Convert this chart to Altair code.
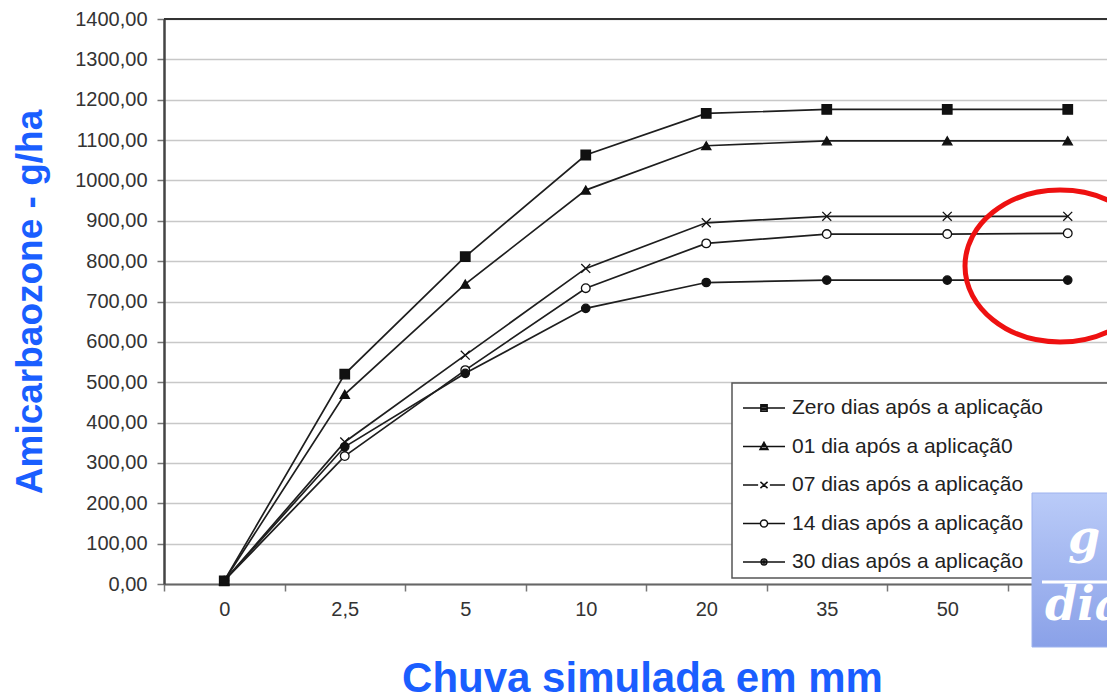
import altair as alt
import pandas as pd

# ---------------- data ----------------
chuva = ["0", "2,5", "5", "10", "20", "35", "50", "65"]
series = [
    "Zero dias após a aplicação",
    "01 dia após a aplicaçã0",
    "07 dias após a aplicação",
    "14 dias após a aplicação",
    "30 dias após a aplicação",
]
zero_dias = [8, 520, 811, 1063, 1166, 1176, 1176, 1176]
um_dia = [8, 470, 743, 976, 1086, 1098, 1098, 1098]
sete_dias = [8, 352, 567, 782, 895, 911, 911, 911]
catorze_dias = [8, 317, 530, 733, 844, 867, 867, 869]
trinta_dias = [8, 340, 522, 683, 747, 753, 753, 753]
y_ticks = list(range(0, 1401, 100))

all_values = [zero_dias, um_dia, sete_dias, catorze_dias, trinta_dias]
rows = []
for s, vals in zip(series, all_values):
    for c, v in zip(chuva, vals):
        rows.append({"chuva": c, "serie": s, "valor": v})
df = pd.DataFrame(rows)
df_series = pd.DataFrame({"serie": series})
one = pd.DataFrame({"k": [0]})

# ---------------- styles ----------------
W, H = 943, 565
BLUE = "#1a5eff"
FONT = "Liberation Sans"

marker_shapes = ["square", "triangle-up", "M-1,-1L1,1M-1,1L1,-1", "circle", "circle"]
marker_fills = ["#111111", "#111111", "#111111", "#ffffff", "#111111"]
marker_sizes = [90, 70, 60, 60, 40]

# stroke-only legend glyphs: line + marker (filled markers emulated by hatching)
legend_paths = [
    "M-1,0H1M-0.15,-0.15H0.15V0.15H-0.15ZM-0.15,-0.08H0.15M-0.15,0.07H0.15",
    "M-1,0H1M0,-0.2L0.19,0.14H-0.19ZM-0.056,-0.1H0.056M-0.095,-0.03H0.095M-0.168,0.1H0.168",
    "M-1,0H-0.28M0.28,0H1M-0.17,-0.15L0.17,0.15M-0.17,0.15L0.17,-0.15",
    "M-1,0H-0.17M0.17,0H1M-0.17,0A0.17,0.17,0,1,1,0.17,0A0.17,0.17,0,1,1,-0.17,0Z",
    "M-1,0H1M-0.14,0A0.14,0.14,0,1,1,0.14,0A0.14,0.14,0,1,1,-0.14,0ZM-0.06,0A0.06,0.06,0,1,1,0.06,0A0.06,0.06,0,1,1,-0.06,0Z",
]

x_enc = alt.X(
    "chuva:N",
    sort=chuva,
    scale=alt.Scale(type="band", domain=chuva, range=[0, 964], paddingInner=0, paddingOuter=0),
    axis=alt.Axis(
        title="Chuva simulada em mm",
        titleFont=FONT, titleFontSize=42, titleFontWeight="bold", titleColor=BLUE,
        titleX=478, titleY=94, titleAlign="center", titleBaseline="middle", titleAngle=0,
        labelFont=FONT, labelFontSize=20, labelColor="#333333", labelAngle=0,
        labelPadding=8, tickBand="extent", tickSize=7, tickColor="#777777", tickWidth=1.5,
        domainColor="#666666", domainWidth=2, grid=False,
    ),
)
y_enc = alt.Y(
    "valor:Q",
    scale=alt.Scale(domain=[0, 1400], nice=False, zero=True),
    axis=alt.Axis(
        values=y_ticks,
        labelExpr="replace(format(datum.value, '.2f'), '.', ',')",
        title="Amicarbaozone - g/ha",
        titleFont=FONT, titleFontSize=37, titleFontWeight="bold", titleColor=BLUE,
        titleAngle=270, titleX=-134, titleY=282.5, titleAlign="center", titleBaseline="middle",
        labelFont=FONT, labelFontSize=20, labelColor="#333333", labelPadding=10,
        tickSize=7, tickColor="#777777", tickWidth=1.5,
        domainColor="#444444", domainWidth=2.5,
        grid=True, gridColor="#c8c8c8", gridWidth=1.6,
    ),
)

# legend frame (white backing, drawn under the overlay box)
frame = alt.Chart(one).mark_rect(fill="white", stroke="#555555", strokeWidth=1.5).encode(
    x=alt.value(568), x2=alt.value(944), y=alt.value(364), y2=alt.value(559)
)

lines = alt.Chart(df).mark_line(interpolate="linear", color="#1e1e1e", strokeWidth=1.7).encode(
    x=x_enc, y=y_enc, detail="serie:N"
)

points = alt.Chart(df).mark_point(opacity=1, stroke="#111111", strokeWidth=1.3).encode(
    x=x_enc,
    y=y_enc,
    shape=alt.Shape("serie:N", scale=alt.Scale(domain=series, range=marker_shapes), legend=None),
    fill=alt.Fill("serie:N", scale=alt.Scale(domain=series, range=marker_fills), legend=None),
    size=alt.Size("serie:N", scale=alt.Scale(domain=series, range=marker_sizes), legend=None),
)

legend_layer = alt.Chart(df_series).mark_point(
    filled=False, color="#111111", strokeWidth=1.5, opacity=1, size=1764
).encode(
    x=alt.value(-700),
    y=alt.value(-700),
    shape=alt.Shape(
        "serie:N",
        scale=alt.Scale(domain=series, range=legend_paths),
        legend=alt.Legend(
            title=None, orient="none", legendX=578, legendY=367,
            symbolSize=1764, symbolStrokeWidth=1.5, symbolStrokeColor="#111111",
            symbolOpacity=1,
            labelFont=FONT, labelFontSize=21, labelColor="#222222", labelOffset=6,
            labelLimit=400, rowPadding=6.5, padding=0,
        ),
    ),
)

top_border = alt.Chart(one).mark_rule(color="#333333", strokeWidth=2).encode(
    x=alt.value(0), x2=alt.value(W), y=alt.value(0)
)

# overlay annotations from the reference slide
box = alt.Chart(one).mark_rect(
    fill={
        "gradient": "linear",
        "x1": 0, "x2": 0, "y1": 0, "y2": 1,
        "stops": [{"offset": 0, "color": "#bacbf8"}, {"offset": 1, "color": "#8aa1e8"}],
    },
    stroke="#9db2ee",
    strokeWidth=1,
).encode(x=alt.value(868), x2=alt.value(960), y=alt.value(474), y2=alt.value(628))

frac_line = alt.Chart(one).mark_rule(color="white", strokeWidth=3).encode(
    x=alt.value(878), x2=alt.value(951), y=alt.value(563)
)
g_text = alt.Chart(one).mark_text(
    text="g", font="DejaVu Serif", fontStyle="italic", fontWeight="bold", fontSize=46,
    color="white", align="center", baseline="alphabetic",
).encode(x=alt.value(920), y=alt.value(534))
dia_text = alt.Chart(one).mark_text(
    text="dia", font="DejaVu Serif", fontStyle="italic", fontWeight="bold", fontSize=46,
    color="white", align="left", baseline="alphabetic",
).encode(x=alt.value(881), y=alt.value(601))

ellipse = alt.Chart(one).mark_point(
    shape="M-1,0A1,0.8,0,1,1,1,0A1,0.8,0,1,1,-1,0Z",
    size=36100, filled=False, stroke="#ee1111", strokeWidth=5, opacity=1,
).encode(x=alt.value(896), y=alt.value(247))

chart = (
    alt.layer(frame, lines, points, legend_layer, top_border, box, frac_line, g_text, dia_text, ellipse)
    .resolve_scale(shape="independent", fill="independent", size="independent")
    .properties(
        width=W,
        height=H,
        padding={"left": 156, "top": 11, "right": 0, "bottom": 116},
        autosize=alt.AutoSizeParams(type="none"),
        background="white",
    )
    .configure_view(stroke=None)
)

chart.save("out.html", embed_options={"renderer": "svg", "actions": False})
